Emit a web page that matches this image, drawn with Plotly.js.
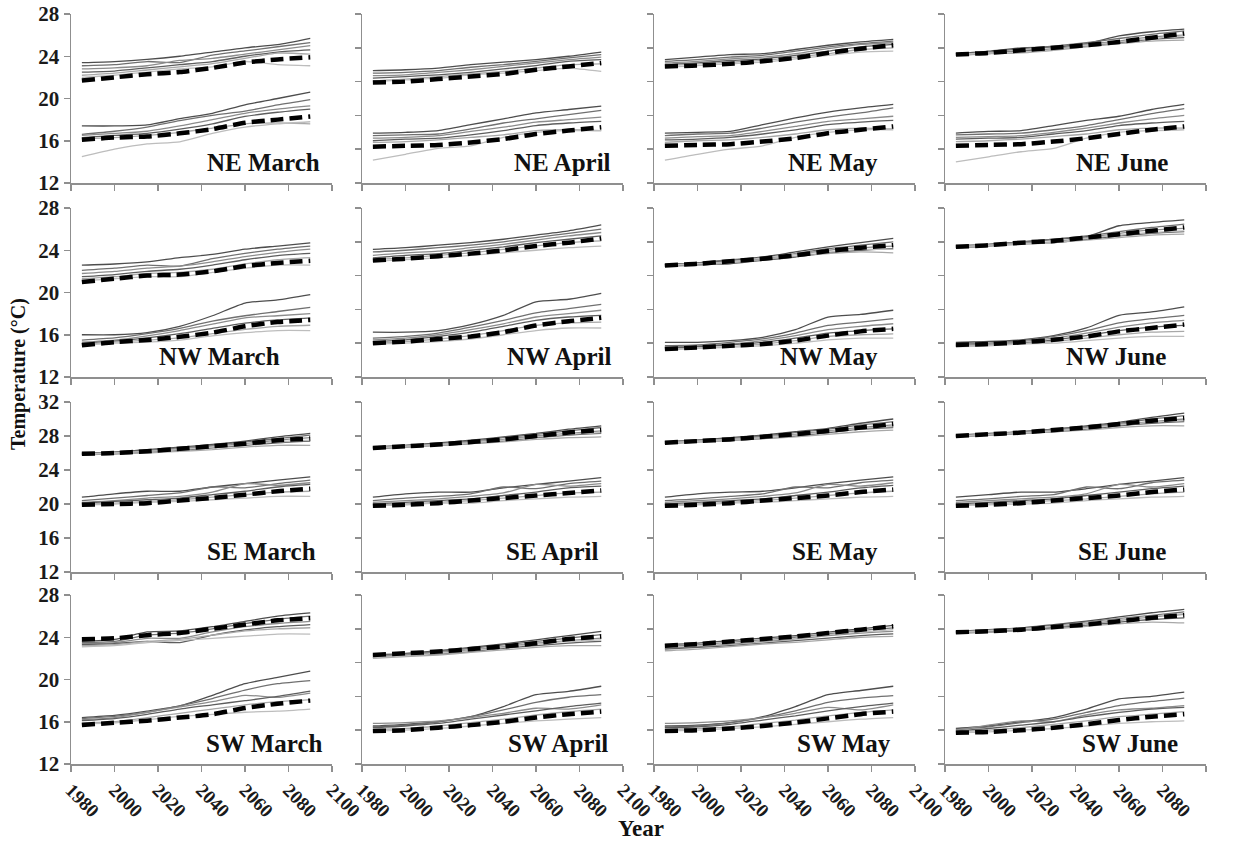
<!DOCTYPE html>
<html>
<head>
<meta charset="utf-8">
<script src="https://cdn.plot.ly/plotly-3.0.1.min.js"></script>
<style>html,body{margin:0;padding:0;background:#fff;}#chart{width:1238px;height:843px;}</style>
</head>
<body>
<div id="chart"></div>
<script>
// ---------------- DATA ----------------
const years = [1985, 2000, 2015, 2030, 2045, 2060, 2075, 2090];
const regions = ['NE', 'NW', 'SE', 'SW'];
const months = ['March', 'April', 'May', 'June'];
const xTickVals = [1980, 2000, 2020, 2040, 2060, 2080, 2100];
const yTickValsLow = [12, 16, 20, 24, 28];
const yTickValsHigh = [12, 16, 20, 24, 28, 32];

// NE
const neMarHiMean = [21.7, 22.0, 22.3, 22.5, 22.9, 23.4, 23.7, 23.9];
const neMarHiModels = [
  [23.4, 23.5, 23.7, 24.0, 24.4, 24.8, 25.1, 25.7],
  [23.1, 23.2, 23.5, 23.4, 24.1, 24.5, 24.9, 25.3],
  [22.8, 22.9, 23.1, 23.6, 23.8, 24.2, 24.6, 25.0],
  [22.5, 22.6, 22.9, 23.2, 23.5, 24.0, 24.4, 24.6],
  [22.2, 22.4, 22.7, 23.0, 23.3, 23.8, 24.3, 24.2],
  [22.0, 22.2, 22.5, 22.8, 23.0, 23.5, 23.2, 23.1]];
const neMarLoMean = [16.1, 16.3, 16.4, 16.7, 17.1, 17.7, 18.0, 18.3];
const neMarLoModels = [
  [17.4, 17.4, 17.5, 18.1, 18.6, 19.4, 20.0, 20.6],
  [16.6, 16.9, 17.3, 17.9, 18.4, 18.8, 19.4, 19.9],
  [16.5, 16.7, 16.9, 17.4, 18.0, 18.6, 19.0, 19.3],
  [16.3, 16.5, 16.7, 17.1, 17.6, 18.3, 18.7, 19.0],
  [16.2, 16.3, 16.5, 16.8, 17.2, 17.6, 17.7, 17.6],
  [14.5, 15.2, 15.7, 15.9, 16.7, 17.3, 17.6, 17.8]];

const neAprHiMean = [23.9, 24.0, 24.3, 24.6, 24.9, 25.4, 25.8, 26.2];
const neAprHiModels = [
  [25.3, 25.4, 25.6, 26.0, 26.3, 26.6, 27.0, 27.5],
  [25.0, 25.1, 25.3, 25.7, 26.0, 26.4, 26.8, 27.2],
  [24.7, 24.8, 25.1, 25.4, 25.8, 26.2, 26.6, 26.9],
  [24.4, 24.6, 24.8, 25.1, 25.5, 25.9, 26.4, 26.6],
  [24.1, 24.3, 24.6, 24.9, 25.2, 25.6, 26.0, 26.1],
  [24.0, 24.2, 24.4, 24.8, 25.0, 25.3, 25.6, 25.2]];
const neAprLoMean = [16.3, 16.4, 16.5, 16.8, 17.2, 17.8, 18.2, 18.6];
const neAprLoModels = [
  [17.9, 18.0, 18.2, 18.9, 19.6, 20.3, 20.7, 21.1],
  [17.6, 17.7, 17.8, 18.4, 19.1, 19.6, 20.1, 20.6],
  [17.3, 17.4, 17.6, 18.1, 18.6, 19.2, 19.5, 19.8],
  [17.0, 17.2, 17.3, 17.7, 18.2, 18.8, 19.1, 19.3],
  [16.8, 16.9, 17.1, 17.4, 17.7, 18.2, 18.3, 18.2],
  [14.7, 15.4, 16.1, 16.4, 17.4, 18.0, 18.2, 18.2]];

const neMayHiMean = [25.8, 25.9, 26.1, 26.4, 26.8, 27.4, 27.9, 28.3];
const neMayHiModels = [
  [26.6, 26.9, 27.2, 27.3, 27.8, 28.3, 28.7, 29.0],
  [26.4, 26.6, 26.9, 27.1, 27.6, 28.1, 28.5, 28.8],
  [26.2, 26.4, 26.7, 26.9, 27.3, 27.9, 28.4, 28.6],
  [26.0, 26.2, 26.5, 26.7, 27.1, 27.6, 28.1, 28.4],
  [25.9, 26.1, 26.3, 26.5, 26.9, 27.3, 27.8, 28.0],
  [25.7, 25.9, 26.1, 26.3, 26.7, 27.1, 27.5, 27.6]];
const neMayLoMean = [16.4, 16.5, 16.6, 16.9, 17.3, 17.9, 18.3, 18.7];
const neMayLoModels = [
  [17.9, 18.0, 18.1, 18.9, 19.7, 20.4, 20.9, 21.3],
  [17.6, 17.8, 17.9, 18.5, 19.2, 19.8, 20.3, 20.9],
  [17.3, 17.5, 17.6, 18.1, 18.7, 19.3, 19.6, 19.9],
  [17.1, 17.2, 17.4, 17.8, 18.3, 18.9, 19.2, 19.4],
  [16.8, 17.0, 17.1, 17.4, 17.8, 18.3, 18.5, 18.4],
  [14.7, 15.4, 16.0, 16.4, 17.4, 18.0, 18.3, 18.3]];

const neJunHiMean = [27.2, 27.4, 27.7, 28.0, 28.3, 28.7, 29.2, 29.7];
const neJunHiModels = [
  [27.3, 27.6, 28.0, 28.1, 28.5, 29.4, 29.9, 30.2],
  [27.3, 27.5, 27.9, 28.2, 28.6, 29.1, 29.6, 30.0],
  [27.2, 27.4, 27.7, 27.9, 28.4, 28.8, 29.3, 29.5],
  [27.1, 27.3, 27.6, 27.8, 28.2, 28.6, 29.0, 29.2],
  [27.1, 27.3, 27.4, 27.7, 28.1, 28.5, 28.8, 28.9],
  [27.2, 27.4, 27.5, 27.8, 28.3, 28.7, 29.1, 29.4]];
const neJunLoMean = [16.4, 16.5, 16.6, 16.9, 17.3, 17.8, 18.3, 18.7];
const neJunLoModels = [
  [17.9, 18.1, 18.2, 18.8, 19.4, 19.9, 20.7, 21.3],
  [17.7, 17.8, 17.9, 18.3, 18.8, 19.5, 20.2, 20.8],
  [17.4, 17.5, 17.6, 18.0, 18.5, 19.1, 19.6, 20.0],
  [17.2, 17.3, 17.4, 17.8, 18.2, 18.8, 19.1, 19.3],
  [16.9, 17.0, 17.2, 17.5, 17.8, 18.3, 18.5, 18.5],
  [14.5, 15.1, 15.7, 16.1, 17.3, 18.0, 18.2, 18.3]];

// NW
const nwMarHiMean = [21.0, 21.3, 21.6, 21.7, 22.0, 22.5, 22.8, 23.0];
const nwMarHiModels = [
  [22.6, 22.7, 22.9, 23.3, 23.6, 24.1, 24.4, 24.7],
  [22.1, 22.3, 22.6, 22.5, 23.2, 23.7, 24.1, 24.4],
  [21.8, 22.0, 22.3, 22.5, 22.9, 23.4, 23.8, 24.1],
  [21.5, 21.7, 22.0, 22.2, 22.6, 23.1, 23.5, 23.7],
  [21.3, 21.5, 21.8, 21.9, 22.2, 22.7, 23.1, 23.3],
  [21.1, 21.3, 21.5, 21.5, 21.9, 22.3, 22.6, 22.6]];
const nwMarLoMean = [15.0, 15.3, 15.5, 15.8, 16.2, 16.8, 17.2, 17.4];
const nwMarLoModels = [
  [16.0, 16.0, 16.2, 16.8, 17.8, 19.0, 19.3, 19.8],
  [15.5, 15.7, 16.1, 16.6, 17.3, 17.8, 18.2, 18.6],
  [15.3, 15.5, 15.9, 16.4, 17.0, 17.6, 17.8, 18.0],
  [15.2, 15.4, 15.7, 16.1, 16.6, 17.1, 17.4, 17.6],
  [15.1, 15.3, 15.5, 15.7, 16.1, 16.5, 16.8, 16.9],
  [15.0, 15.2, 15.3, 15.5, 15.9, 16.2, 16.4, 16.4]];

const nwAprHiMean = [25.8, 26.0, 26.3, 26.6, 27.0, 27.5, 27.9, 28.4];
const nwAprHiModels = [
  [27.1, 27.3, 27.6, 27.9, 28.3, 28.8, 29.3, 30.0],
  [26.8, 27.0, 27.3, 27.6, 28.0, 28.5, 29.0, 29.5],
  [26.4, 26.7, 26.9, 27.3, 27.7, 28.2, 28.7, 29.1],
  [26.1, 26.4, 26.6, 27.0, 27.4, 27.9, 28.3, 28.7],
  [25.9, 26.1, 26.4, 26.7, 27.1, 27.5, 27.9, 28.1],
  [25.7, 25.9, 26.1, 26.4, 26.7, 27.0, 27.3, 27.5]];
const nwAprLoMean = [16.0, 16.2, 16.5, 16.8, 17.3, 18.1, 18.6, 19.0];
const nwAprLoModels = [
  [17.3, 17.3, 17.5, 18.2, 19.3, 20.9, 21.2, 21.9],
  [16.6, 16.8, 17.2, 17.9, 18.7, 19.6, 20.1, 20.6],
  [16.4, 16.6, 17.0, 17.6, 18.3, 19.1, 19.5, 19.9],
  [16.2, 16.4, 16.8, 17.3, 18.0, 18.7, 19.1, 19.3],
  [16.0, 16.2, 16.5, 16.9, 17.5, 18.1, 18.4, 18.5],
  [15.9, 16.0, 16.2, 16.5, 17.0, 17.5, 17.8, 17.8]];

const nwMayHiMean = [25.2, 25.4, 25.7, 26.0, 26.4, 26.9, 27.3, 27.6];
const nwMayHiModels = [
  [25.3, 25.5, 25.8, 26.2, 26.8, 27.4, 27.9, 28.4],
  [25.3, 25.5, 25.9, 26.1, 26.6, 27.2, 27.6, 28.0],
  [25.2, 25.4, 25.6, 26.0, 26.5, 27.0, 27.3, 27.5],
  [25.1, 25.3, 25.4, 25.8, 26.2, 26.7, 27.0, 27.2],
  [25.1, 25.2, 25.5, 25.9, 26.3, 26.6, 26.8, 26.7],
  [25.2, 25.4, 25.6, 26.1, 26.5, 26.8, 27.1, 27.1]];
const nwMayLoMean = [15.3, 15.5, 15.7, 15.9, 16.3, 16.9, 17.4, 17.7];
const nwMayLoModels = [
  [16.1, 16.1, 16.3, 16.7, 17.6, 19.1, 19.4, 19.9],
  [15.7, 15.8, 16.1, 16.5, 17.2, 18.1, 18.5, 18.9],
  [15.5, 15.7, 15.9, 16.3, 16.9, 17.6, 18.0, 18.3],
  [15.4, 15.6, 15.8, 16.1, 16.6, 17.2, 17.5, 17.7],
  [15.3, 15.4, 15.6, 15.9, 16.3, 16.8, 17.0, 17.1],
  [15.2, 15.4, 15.5, 15.7, 16.0, 16.4, 16.6, 16.6]];

const nwJunHiMean = [27.4, 27.6, 27.9, 28.1, 28.5, 28.9, 29.3, 29.7];
const nwJunHiModels = [
  [27.5, 27.7, 28.0, 28.3, 28.6, 29.9, 30.3, 30.6],
  [27.5, 27.7, 28.0, 28.3, 28.7, 29.2, 29.7, 30.1],
  [27.4, 27.6, 27.9, 28.0, 28.5, 29.0, 29.4, 29.6],
  [27.3, 27.5, 27.8, 27.9, 28.3, 28.7, 29.0, 29.2],
  [27.3, 27.5, 27.7, 27.9, 28.2, 28.5, 28.8, 28.9],
  [27.4, 27.6, 27.8, 27.9, 28.4, 28.8, 29.1, 29.3]];
const nwJunLoMean = [15.8, 15.9, 16.1, 16.4, 16.8, 17.4, 17.8, 18.2];
const nwJunLoModels = [
  [16.1, 16.2, 16.4, 16.9, 17.8, 19.3, 19.7, 20.3],
  [15.9, 16.0, 16.3, 16.8, 17.5, 18.4, 18.9, 19.3],
  [15.8, 15.9, 16.2, 16.6, 17.2, 17.9, 18.4, 18.7],
  [15.7, 15.8, 16.0, 16.4, 16.9, 17.5, 17.9, 18.1],
  [15.7, 15.8, 16.0, 16.2, 16.6, 17.0, 17.3, 17.4],
  [15.6, 15.7, 15.9, 16.0, 16.3, 16.6, 16.8, 16.8]];

// SE
const seMarHiMean = [25.9, 26.0, 26.2, 26.5, 26.8, 27.1, 27.5, 27.7];
const seMarHiModels = [
  [26.0, 26.1, 26.4, 26.7, 27.0, 27.4, 27.9, 28.3],
  [25.9, 26.1, 26.3, 26.6, 26.9, 27.3, 27.7, 28.1],
  [25.9, 26.0, 26.2, 26.5, 26.8, 27.1, 27.5, 27.8],
  [25.8, 25.9, 26.1, 26.3, 26.6, 26.9, 27.2, 27.4],
  [25.8, 25.9, 26.0, 26.2, 26.4, 26.7, 26.9, 26.9],
  [25.9, 26.0, 26.2, 26.4, 26.7, 27.0, 27.3, 27.5]];
const seMarLoMean = [19.9, 20.0, 20.1, 20.4, 20.7, 21.1, 21.5, 21.8];
const seMarLoModels = [
  [20.8, 21.2, 21.5, 21.5, 22.0, 22.4, 22.8, 23.2],
  [20.4, 20.7, 21.0, 21.3, 22.0, 21.9, 22.4, 22.8],
  [20.2, 20.4, 20.7, 20.9, 21.4, 22.4, 22.2, 22.5],
  [20.1, 20.3, 20.5, 20.7, 21.1, 21.5, 22.0, 22.3],
  [20.0, 20.1, 20.3, 20.5, 20.8, 21.1, 21.4, 21.5],
  [19.9, 20.0, 20.2, 20.3, 20.5, 20.7, 20.9, 20.9]];

const seAprHiMean = [26.6, 26.8, 27.0, 27.3, 27.6, 28.0, 28.4, 28.7];
const seAprHiModels = [
  [26.7, 26.9, 27.2, 27.5, 27.9, 28.3, 28.8, 29.2],
  [26.7, 26.9, 27.1, 27.4, 27.8, 28.2, 28.6, 29.0],
  [26.6, 26.8, 27.0, 27.3, 27.6, 28.0, 28.3, 28.6],
  [26.5, 26.7, 26.9, 27.1, 27.4, 27.8, 28.1, 28.3],
  [26.6, 26.7, 26.9, 27.1, 27.3, 27.6, 27.8, 27.9],
  [26.6, 26.8, 27.0, 27.2, 27.5, 27.9, 28.2, 28.4]];
const seAprLoMean = [19.8, 19.9, 20.1, 20.4, 20.7, 21.0, 21.3, 21.6];
const seAprLoModels = [
  [20.8, 21.2, 21.4, 21.4, 21.9, 22.3, 22.7, 23.1],
  [20.4, 20.7, 20.9, 21.2, 22.0, 21.8, 22.4, 22.7],
  [20.2, 20.4, 20.6, 20.9, 21.3, 22.3, 22.1, 22.4],
  [20.0, 20.2, 20.4, 20.6, 21.0, 21.4, 21.9, 22.1],
  [19.9, 20.0, 20.2, 20.4, 20.7, 21.0, 21.3, 21.4],
  [19.8, 19.9, 20.1, 20.1, 20.4, 20.6, 20.8, 20.9]];

const seMayHiMean = [27.2, 27.4, 27.6, 27.9, 28.2, 28.6, 29.0, 29.4];
const seMayHiModels = [
  [27.3, 27.5, 27.8, 28.1, 28.5, 28.9, 29.5, 30.0],
  [27.3, 27.5, 27.7, 28.0, 28.4, 28.8, 29.3, 29.7],
  [27.2, 27.4, 27.6, 27.9, 28.2, 28.6, 29.0, 29.3],
  [27.1, 27.3, 27.5, 27.7, 28.0, 28.4, 28.8, 29.0],
  [27.1, 27.3, 27.5, 27.7, 27.9, 28.2, 28.5, 28.7],
  [27.2, 27.4, 27.6, 27.8, 28.1, 28.5, 28.9, 29.1]];
const seMayLoMean = [19.8, 19.9, 20.1, 20.4, 20.7, 21.0, 21.4, 21.7];
const seMayLoModels = [
  [20.8, 21.2, 21.4, 21.5, 21.9, 22.4, 22.8, 23.2],
  [20.4, 20.6, 20.9, 21.2, 22.0, 21.9, 22.5, 22.8],
  [20.2, 20.4, 20.6, 20.9, 21.3, 22.3, 22.1, 22.5],
  [20.0, 20.2, 20.4, 20.6, 21.0, 21.4, 21.9, 22.2],
  [19.9, 20.0, 20.2, 20.4, 20.7, 21.0, 21.3, 21.5],
  [19.8, 19.9, 20.1, 20.2, 20.4, 20.6, 20.8, 20.9]];

const seJunHiMean = [28.0, 28.2, 28.4, 28.7, 29.0, 29.4, 29.8, 30.1];
const seJunHiModels = [
  [28.1, 28.3, 28.5, 28.8, 29.2, 29.6, 30.2, 30.7],
  [28.0, 28.2, 28.5, 28.8, 29.1, 29.5, 30.0, 30.4],
  [28.0, 28.2, 28.4, 28.7, 29.0, 29.4, 29.7, 30.0],
  [27.9, 28.1, 28.3, 28.5, 28.8, 29.2, 29.5, 29.7],
  [27.9, 28.1, 28.3, 28.5, 28.7, 29.0, 29.2, 29.2],
  [28.0, 28.2, 28.4, 28.6, 28.9, 29.3, 29.6, 29.8]];
const seJunLoMean = [19.8, 19.9, 20.1, 20.4, 20.7, 21.0, 21.4, 21.7];
const seJunLoModels = [
  [20.8, 21.1, 21.4, 21.4, 21.8, 22.3, 22.7, 23.1],
  [20.4, 20.6, 20.9, 21.1, 22.0, 21.8, 22.5, 22.8],
  [20.2, 20.4, 20.6, 20.8, 21.2, 22.3, 22.0, 22.4],
  [20.0, 20.2, 20.4, 20.6, 21.0, 21.4, 21.8, 22.1],
  [19.9, 20.0, 20.2, 20.4, 20.6, 20.9, 21.2, 21.4],
  [19.8, 19.9, 20.0, 20.1, 20.4, 20.6, 20.8, 20.9]];

// SW
const swMarHiMean = [23.8, 23.9, 24.2, 24.4, 24.8, 25.2, 25.6, 25.8];
const swMarHiModels = [
  [23.6, 23.8, 24.5, 24.6, 25.0, 25.5, 26.0, 26.3],
  [23.5, 23.6, 24.2, 24.4, 24.8, 25.3, 25.7, 26.0],
  [23.4, 23.5, 23.9, 23.9, 24.5, 25.0, 25.3, 25.5],
  [23.3, 23.4, 23.6, 23.5, 24.2, 24.7, 25.0, 25.2],
  [23.2, 23.3, 23.6, 23.8, 24.2, 24.6, 24.8, 24.9],
  [23.1, 23.2, 23.5, 23.7, 23.9, 24.1, 24.3, 24.3]];
const swMarLoMean = [15.7, 15.9, 16.1, 16.4, 16.7, 17.3, 17.7, 18.0];
const swMarLoModels = [
  [16.4, 16.6, 17.0, 17.5, 18.5, 19.6, 20.2, 20.8],
  [16.3, 16.5, 16.9, 17.5, 18.2, 19.0, 19.6, 19.9],
  [16.2, 16.4, 16.9, 17.4, 17.9, 18.5, 18.3, 18.7],
  [16.1, 16.3, 16.7, 17.2, 17.6, 18.0, 18.4, 18.9],
  [15.9, 16.0, 16.4, 16.8, 17.2, 17.6, 17.9, 18.1],
  [15.8, 15.9, 16.2, 16.5, 16.7, 16.9, 17.0, 17.2]];

const swAprHiMean = [24.9, 25.1, 25.3, 25.6, 25.9, 26.3, 26.8, 27.1];
const swAprHiModels = [
  [24.9, 25.1, 25.4, 25.8, 26.2, 26.7, 27.2, 27.7],
  [24.8, 25.0, 25.3, 25.7, 26.1, 26.5, 26.9, 27.3],
  [24.7, 24.9, 25.2, 25.5, 25.9, 26.3, 26.6, 26.9],
  [24.6, 24.8, 25.0, 25.3, 25.7, 26.0, 26.3, 26.5],
  [24.5, 24.7, 24.9, 25.2, 25.5, 25.8, 26.0, 26.0],
  [24.6, 24.8, 25.1, 25.4, 25.8, 26.2, 26.5, 26.7]];
const swAprLoMean = [15.9, 16.0, 16.3, 16.6, 17.0, 17.5, 17.9, 18.2];
const swAprLoModels = [
  [16.5, 16.7, 17.0, 17.6, 18.8, 20.2, 20.6, 21.2],
  [16.4, 16.6, 17.0, 17.6, 18.4, 19.3, 19.9, 20.2],
  [16.8, 16.9, 17.1, 17.5, 18.0, 18.6, 18.5, 19.0],
  [16.3, 16.5, 16.8, 17.3, 17.8, 18.3, 18.8, 19.2],
  [16.1, 16.2, 16.5, 16.9, 17.3, 17.8, 18.2, 18.5],
  [15.9, 16.0, 16.2, 16.5, 16.8, 17.1, 17.3, 17.5]];

const swMayHiMean = [26.0, 26.2, 26.5, 26.8, 27.1, 27.5, 27.9, 28.3];
const swMayHiModels = [
  [26.1, 26.3, 26.6, 26.9, 27.2, 27.6, 28.0, 28.4],
  [25.9, 26.1, 26.4, 26.7, 27.0, 27.4, 27.8, 28.1],
  [25.7, 25.9, 26.2, 26.5, 26.8, 27.2, 27.5, 27.7],
  [25.6, 25.8, 26.0, 26.3, 26.6, 26.9, 27.2, 27.4],
  [25.4, 25.6, 25.9, 26.2, 26.4, 26.7, 27.0, 27.1],
  [25.8, 26.0, 26.3, 26.6, 26.9, 27.3, 27.6, 27.9]];
const swMayLoMean = [15.9, 16.0, 16.2, 16.5, 16.9, 17.4, 17.9, 18.2];
const swMayLoModels = [
  [16.5, 16.6, 16.9, 17.6, 18.8, 20.2, 20.7, 21.2],
  [16.4, 16.5, 16.9, 17.5, 18.3, 19.3, 19.8, 20.1],
  [16.8, 16.9, 17.1, 17.5, 18.0, 18.7, 18.4, 19.0],
  [16.3, 16.4, 16.7, 17.2, 17.7, 18.3, 18.8, 19.2],
  [16.1, 16.2, 16.4, 16.8, 17.2, 17.7, 18.1, 18.4],
  [15.9, 16.0, 16.2, 16.4, 16.7, 17.0, 17.3, 17.5]];

const swJunHiMean = [27.6, 27.7, 27.9, 28.2, 28.5, 28.9, 29.3, 29.6];
const swJunHiModels = [
  [27.7, 27.9, 28.1, 28.5, 28.9, 29.4, 29.9, 30.3],
  [27.6, 27.8, 28.1, 28.4, 28.8, 29.2, 29.6, 30.0],
  [27.6, 27.7, 27.9, 28.2, 28.6, 29.0, 29.4, 29.7],
  [27.5, 27.6, 27.8, 28.1, 28.4, 28.8, 29.1, 29.3],
  [27.5, 27.6, 27.8, 28.0, 28.3, 28.6, 28.8, 28.7],
  [27.6, 27.8, 28.0, 28.3, 28.7, 29.1, 29.5, 29.8]];
const swJunLoMean = [15.7, 15.8, 16.0, 16.3, 16.7, 17.2, 17.6, 17.9];
const swJunLoModels = [
  [16.2, 16.5, 17.0, 17.5, 18.5, 19.7, 20.0, 20.5],
  [16.1, 16.4, 16.9, 17.3, 18.1, 18.9, 19.4, 19.8],
  [16.0, 16.6, 17.1, 17.0, 17.8, 18.4, 18.6, 18.9],
  [15.9, 16.2, 16.6, 17.0, 17.6, 18.1, 18.5, 18.7],
  [15.8, 16.0, 16.3, 16.7, 17.1, 17.6, 17.9, 18.2],
  [15.7, 15.8, 16.0, 16.2, 16.5, 16.8, 17.0, 17.1]];

// ---------------- PANELS (rows = regions, columns = months) ----------------
const panelData = [
  [[neMarHiModels, neMarHiMean, neMarLoModels, neMarLoMean], [neAprHiModels, neAprHiMean, neAprLoModels, neAprLoMean],
   [neMayHiModels, neMayHiMean, neMayLoModels, neMayLoMean], [neJunHiModels, neJunHiMean, neJunLoModels, neJunLoMean]],
  [[nwMarHiModels, nwMarHiMean, nwMarLoModels, nwMarLoMean], [nwAprHiModels, nwAprHiMean, nwAprLoModels, nwAprLoMean],
   [nwMayHiModels, nwMayHiMean, nwMayLoModels, nwMayLoMean], [nwJunHiModels, nwJunHiMean, nwJunLoModels, nwJunLoMean]],
  [[seMarHiModels, seMarHiMean, seMarLoModels, seMarLoMean], [seAprHiModels, seAprHiMean, seAprLoModels, seAprLoMean],
   [seMayHiModels, seMayHiMean, seMayLoModels, seMayLoMean], [seJunHiModels, seJunHiMean, seJunLoModels, seJunLoMean]],
  [[swMarHiModels, swMarHiMean, swMarLoModels, swMarLoMean], [swAprHiModels, swAprHiMean, swAprLoModels, swAprLoMean],
   [swMayHiModels, swMayHiMean, swMayLoModels, swMayLoMean], [swJunHiModels, swJunHiMean, swJunLoModels, swJunLoMean]]
];

// ---------------- STYLE / LAYOUT ----------------
const W = 1238, H = 843;
const colLeft = [71, 362, 654, 945];
const plotW = 261;
const rowTop = [14, 208, 402, 595];
const rowBot = [183, 377, 572, 764];
const labelRight = [
  [0.96, 0.96, 0.866, 0.862],
  [0.81, 0.96, 0.866, 0.855],
  [0.946, 0.91, 0.866, 0.855],
  [0.973, 0.95, 0.916, 0.90]
];
const modelColors = ['#4d4d4d', '#707070', '#8c8c8c', '#5e5e5e', '#a8a8a8', '#bdbdbd'];
const serif = '"Liberation Serif", "Times New Roman", Times, serif';
const axisGray = '#8f8f8f';
const bold = v => '<b>' + v + '</b>';

const traces = [];
const layout = {
  width: W, height: H,
  margin: {l: 0, r: 0, t: 0, b: 0},
  paper_bgcolor: '#fff', plot_bgcolor: 'rgba(0,0,0,0)',
  font: {family: serif, color: '#1a1a1a'},
  showlegend: false,
  annotations: []
};

for (let r = 0; r < 4; r++) {
  for (let c = 0; c < 4; c++) {
    const n = r * 4 + c + 1;
    const xa = n === 1 ? 'x' : 'x' + n;
    const ya = n === 1 ? 'y' : 'y' + n;
    const [hiM, hiMean, loM, loMean] = panelData[r][c];
    [loM, hiM].forEach(group => {
      group.forEach((s, i) => {
        traces.push({x: years, y: s, xaxis: xa, yaxis: ya, mode: 'lines', hoverinfo: 'skip',
          line: {color: modelColors[i % modelColors.length], width: 1.3, shape: 'spline', smoothing: 0.6}});
      });
    });
    [loMean, hiMean].forEach(s => {
      traces.push({x: years, y: s, xaxis: xa, yaxis: ya, mode: 'lines', hoverinfo: 'skip',
        line: {color: '#000', width: 4.5, dash: '13px,6px', shape: 'spline', smoothing: 0.6}});
    });

    const yTicks = (c === 0 && r !== 2) ? yTickValsLow : yTickValsHigh;
    const xKey = n === 1 ? 'xaxis' : 'xaxis' + n;
    const yKey = n === 1 ? 'yaxis' : 'yaxis' + n;
    layout[xKey] = {
      domain: [colLeft[c] / W, (colLeft[c] + plotW) / W],
      anchor: ya, range: [1980, 2100],
      tickmode: 'array', tickvals: xTickVals, ticktext: xTickVals.map(bold),
      showline: true, linecolor: axisGray, linewidth: 1.5,
      ticks: 'outside', ticklen: 6, tickcolor: axisGray, tickwidth: 1.5,
      showgrid: false, zeroline: false, automargin: false,
      showticklabels: r === 3, tickangle: 45,
      tickfont: {family: serif, size: 19, color: '#1a1a1a'}
    };
    layout[yKey] = {
      domain: [1 - rowBot[r] / H, 1 - rowTop[r] / H],
      anchor: xa, range: [12, yTicks[yTicks.length - 1]],
      tickmode: 'array', tickvals: yTicks, ticktext: yTicks.map(bold),
      showline: true, linecolor: axisGray, linewidth: 1.5,
      ticks: 'outside', ticklen: 6, tickcolor: axisGray, tickwidth: 1.5,
      showgrid: false, zeroline: false, automargin: false,
      showticklabels: c === 0,
      tickfont: {family: serif, size: 21, color: '#1a1a1a'}
    };
    layout.annotations.push({
      xref: xa + ' domain', yref: ya + ' domain',
      x: labelRight[r][c], y: 0.03, xanchor: 'right', yanchor: 'bottom',
      text: bold(regions[r] + ' ' + months[c]), showarrow: false,
      font: {family: serif, size: 25, color: '#111'}
    });
  }
}

layout.annotations.push({
  xref: 'paper', yref: 'paper', x: 18 / W, y: 1 - 374 / H,
  xanchor: 'center', yanchor: 'middle', textangle: -90,
  text: bold('Temperature (°C)'), showarrow: false,
  font: {family: serif, size: 20, color: '#111'}
});
layout.annotations.push({
  xref: 'paper', yref: 'paper', x: 641 / W, y: 1 - 828 / H,
  xanchor: 'center', yanchor: 'middle',
  text: bold('Year'), showarrow: false,
  font: {family: serif, size: 23, color: '#111'}
});

Plotly.newPlot('chart', traces, layout, {staticPlot: true, displayModeBar: false});
</script>
</body>
</html>
